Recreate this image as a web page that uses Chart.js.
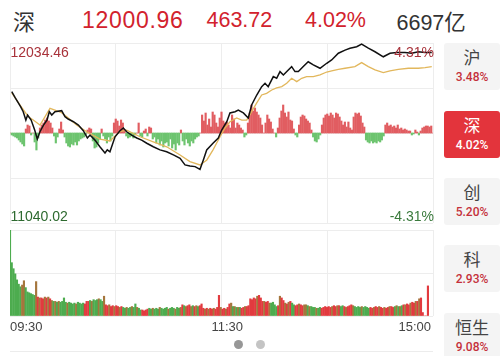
<!DOCTYPE html>
<html><head><meta charset="utf-8">
<script src="https://cdn.jsdelivr.net/npm/chart.js@4.4.0/dist/chart.umd.min.js"></script>
<style>
body{margin:0;background:#fff;width:500px;height:356px;overflow:hidden;position:relative;font-family:"Liberation Sans",Arial,"Noto Sans CJK SC",sans-serif;}
.t{position:absolute;white-space:nowrap;line-height:1;}
.cjk{font-family:"Noto Sans CJK SC",sans-serif;}
#c1{position:absolute;left:0;top:0;}
#c2{position:absolute;left:0;top:225px;}
.btn{position:absolute;left:444px;width:56px;height:47px;background:#f4f4f4;border-radius:3px;text-align:center;}
.btn .n{font-family:"Noto Sans CJK SC",sans-serif;font-size:17px;color:#444;margin-top:4px;line-height:20px;}
.btn .p{font-family:Roboto,"Liberation Sans",sans-serif;font-weight:500;font-size:12px;color:#c4303b;margin-top:2px;line-height:16px;}
.btn.on{background:#e3343c;}
.btn.on .n,.btn.on .p{color:#fff;}
.dot{position:absolute;width:9px;height:9px;border-radius:50%;}
</style></head>
<body>
<div class="t cjk" style="left:13px;top:9px;font-size:22px;line-height:22px;color:#333;">深</div>
<div class="t" style="left:82px;top:8.8px;font-size:23px;letter-spacing:0.7px;color:#d2222d;">12000.96</div>
<div class="t" style="left:206.5px;top:10px;font-size:21.5px;color:#d2222d;">463.72</div>
<div class="t" style="left:305px;top:10px;font-size:21.5px;color:#d2222d;">4.02%</div>
<div class="t" style="left:396.5px;top:10px;font-size:21.5px;color:#333;">6697<span class="cjk">亿</span></div>

<canvas id="c1" width="440" height="230"></canvas>
<canvas id="c2" width="440" height="100"></canvas>

<div class="t" style="left:10.5px;top:45px;font-size:14px;color:#a8323a;">12034.46</div>
<div class="t" style="right:66px;top:45px;font-size:14px;color:#a8323a;">4.31%</div>
<div class="t" style="left:10.5px;top:208.8px;font-size:14px;color:#2d6a2f;">11040.02</div>
<div class="t" style="right:66px;top:208.8px;font-size:14px;color:#3a7a3c;">-4.31%</div>

<div class="t" style="left:10px;top:319.7px;font-size:13px;color:#444;">09:30</div>
<div class="t" style="left:211.5px;top:319.7px;font-size:13px;color:#444;">11:30</div>
<div class="t" style="right:69px;top:319.7px;font-size:13px;color:#444;">15:00</div>

<div class="dot" style="left:234px;top:339.5px;background:#979797;"></div>
<div class="dot" style="left:256px;top:339.5px;background:#c4c4c4;"></div>
<div style="position:absolute;left:10px;top:351px;width:423px;height:1px;background:#ececec;"></div>

<div class="btn" style="top:43px;"><div class="n">沪</div><div class="p">3.48%</div></div>
<div class="btn on" style="top:111px;"><div class="n">深</div><div class="p">4.02%</div></div>
<div class="btn" style="top:178px;"><div class="n">创</div><div class="p">5.20%</div></div>
<div class="btn" style="top:245px;"><div class="n">科</div><div class="p">2.93%</div></div>
<div class="btn" style="top:313px;"><div class="n">恒生</div><div class="p">9.08%</div></div>

<script>
// minute index (0 = 09:30, 120 = 11:30/13:00, 240 = 15:00) and % change
const priceT = [1,3,6,7.5,9,10,12,14,15.5,17,19,21,22.3,23.7,25.5,29.3,31.2,33,36,38.8,41.6,43.9,45.4,48.2,51,53.9,55.2,56.7,59.6,62.4,64.3,66.2,69,71.9,74.7,77.6,81.3,85.1,88.9,92.7,96.5,99.3,102.1,105,107.8,109.7,111.6,115.3,118.2,120.1,123,124.8,127.7,129.5,132.4,135.2,137.1,140,142.8,144.7,146.5,149.4,151.3,153.2,155.1,157.9,159.8,161.7,163.6,166.4,169.2,172.1,175.9,179.7,182.5,186.3,190.1,192.9,196.7,199.5,203.3,207.1,211.8,215.6,219.4,224.1,227.9,231.7,235.5,239.3];
const priceV = [1.98,1.68,1.26,1.02,0.62,0.86,0.62,0.14,-0.29,0.06,0.38,0.62,1.02,0.86,1.02,1.07,0.78,0.67,0.54,0.38,0.11,-0.24,-0.10,-0.34,-0.66,-0.96,-0.81,-0.90,-0.18,0.11,0.24,0.06,-0.10,-0.24,-0.34,-0.49,-0.66,-0.81,-0.90,-1.05,-1.21,-1.53,-1.58,-1.61,-1.74,-1.29,-0.81,-0.48,-0.24,0.14,0.54,0.96,1.02,1.10,0.96,0.72,1.34,1.82,2.22,2.38,2.22,2.70,2.62,2.94,2.78,3.02,3.18,2.94,2.94,3.18,3.41,3.26,3.10,3.34,3.50,3.82,3.97,4.06,4.13,4.26,4.06,3.89,3.65,3.82,3.85,3.85,3.82,3.89,3.85,3.86];
const avgT = [1,5.7,10.4,13.2,17,19.9,22.7,25.5,29.3,32.2,37.8,43.5,51,56.7,59.6,62.4,66.2,73.8,81.3,88.9,96.5,102.1,107.8,111.7,115.2,119.1,122,124.8,128.6,131.5,134.3,137.1,140,142.8,145.6,148.5,151.3,154.2,157,159.8,162.7,165.5,168.3,172.1,175.9,179.7,182.5,186.3,190.1,195.7,199.5,203.3,207.1,211.8,215.6,220.3,226,231.7,235.5,239.3];
const avgV = [1.92,1.34,0.78,0.62,0.38,0.78,1.18,1.10,0.97,0.78,0.38,0.06,-0.29,-0.38,-0.14,0.07,0.14,-0.18,-0.42,-0.66,-1.05,-1.37,-1.53,-1.29,-0.81,-0.19,0.24,0.54,0.72,0.62,0.62,1.02,1.44,1.82,1.90,2.06,2.16,2.22,2.38,2.62,2.46,2.62,2.70,2.70,2.78,2.92,2.98,3.05,3.10,3.18,3.37,3.18,3.02,2.89,2.98,3.05,3.10,3.10,3.13,3.18];
// per-minute buy/sell strength bars (+ red, - green)
const flow = [
0,-2,-3,-4,-5,-7,-9,-11,-13,4,
8,7,-2,0,-9,-17,-5,5,8,10,
13,15,12,10,5,-3,-10,-4,4,11,
3,-4,-10,-13,-14,-11,-12,-9,-12,-8,
-6,-5,-4,-2,3,5,4,-8,-15,-14,
-10,-6,4,-3,-6,-10,-4,-8,-3,10,
14,12,7,13,10,3,-3,-5,-4,-3,
-5,-2,0,10,-3,-4,2,4,-3,6,
5,-6,-4,-10,-6,-12,-8,-14,-10,-9,
-13,-6,-15,-11,-17,-10,-12,3,-8,-12,
-6,-10,-13,-8,-10,-6,-4,-3,0,18,
12,20,8,14,6,21,18,10,6,15,
21,12,10,11,8,5,18,14,5,10,
8,5,3,-4,-2,10,20,28,22,25,
21,18,15,8,0,10,18,14,11,4,
0,-4,5,15,22,28,20,16,21,13,
12,4,-2,-4,8,16,18,17,14,12,
10,3,-4,-8,-9,-6,-2,8,15,18,
19,17,20,18,15,20,19,16,12,8,
11,6,11,5,3,16,20,19,20,17,
10,6,-7,-9,-10,-8,-10,-9,-10,-8,
-9,-7,-3,8,10,7,8,6,7,5,
8,4,5,3,4,3,2,2,-2,-1,
3,1,-2,2,5,6,7,7,6,7,
0];
// per-minute volume (relative, max = 100)
const volume = [
100,62,55,49,42,37,34,36,41,33,
28,27,26,25,24,40,22,21,21,20,
22,21,22,20,18,17,17,16,17,16,
17,21,16,15,16,15,14,15,14,16,
15,14,15,14,17,17,18,17,19,18,
19,20,19,17,23,13,12,13,11,12,
11,12,11,10,11,10,9,10,9,10,
11,10,14,10,9,7,7,6,7,8,
9,8,9,8,9,8,10,9,8,9,
10,8,9,10,9,8,10,9,10,13,
12,11,12,13,11,12,11,12,11,12,
14,9,8,9,8,9,8,9,8,10,
24,10,8,9,8,10,14,15,11,11,
10,10,10,9,10,11,11,12,20,19,
21,20,23,24,21,17,17,16,17,15,
15,16,13,11,12,23,21,18,15,14,
16,17,15,13,12,13,14,13,12,13,
13,12,11,11,10,10,9,9,10,9,
10,11,10,11,10,11,12,11,12,12,
11,12,11,10,11,12,13,12,11,10,
11,10,11,10,11,10,9,10,9,10,
11,10,11,10,9,10,9,10,11,11,
10,11,12,11,11,12,13,13,14,13,
15,16,15,17,17,20,21,4,0,0,
35];
// volume bar direction: g = down, r = up, o = flat
const volDir = ["ggggggg","oo","gggggg","o","rorroror","ogogo","ggggoggggogggg","rrr","gogggog","g","o",
"rrorrorror","ggoggoggogg","rrrr","ggogggoggggogggogg","orgorrogrogr","rrororrorr","rorrorro","gogog",
"rrorrrrrrorrr","orro","gggg","rorroror","gg","rrorro","ogo","gggogg","rrrrr","rorror","gg","rorrro",
"ggggogggg","rrorrorrorrorr","gogog","rorror","rororrrrr"];

const GRID = '#ededed';
const dirStr = volDir.join('');
const volColor = {g:'#4dac4f', r:'#e23a3f', o:'#a5763d'};

function fixedTicks(vals){ return s => { s.ticks = vals.map(v => ({value:v})); }; }
function axis(min,max,ticks){
  return {type:'linear',min:min,max:max,offset:false,
    grid:{color:GRID,lineWidth:1,drawTicks:false,offset:false},
    border:{display:false},ticks:{display:false},afterBuildTicks:fixedTicks(ticks)};
}
const base = {responsive:false,animation:false,events:[],
  plugins:{legend:{display:false},tooltip:{enabled:false}}};

new Chart(document.getElementById('c1'), {
  type:'bar',
  data:{datasets:[
    {type:'line',data:priceT.map((t,k)=>({x:t,y:priceV[k]})),borderColor:'#111',borderWidth:1.5,pointRadius:0,tension:0,order:1,yAxisID:'y'},
    {type:'line',data:avgT.map((t,k)=>({x:t,y:avgV[k]})),borderColor:'#e2b75c',borderWidth:1.3,pointRadius:0,tension:0,order:2,yAxisID:'y'},
    {type:'bar',data:flow.map((v,i)=>({x:i,y:v})),backgroundColor:flow.map(v=>v>=0?'#e15d61':'#6dc46f'),barThickness:1.5,order:3,yAxisID:'y2'}
  ]},
  options:Object.assign({},base,{
    layout:{padding:{left:10,right:7,top:43,bottom:7},autoPadding:false},
    scales:{
      x:axis(0,240,[0,60,120,180,240]),
      y:axis(-4.31,4.31,[-4.31,-2.155,0,2.155,4.31]),
      y2:{type:'linear',min:-90,max:90,display:false}
    }})
});

const vMax = 242.9;
new Chart(document.getElementById('c2'), {
  type:'bar',
  data:{datasets:[
    {data:volume.map((v,i)=>({x:i,y:v})),backgroundColor:volume.map((v,i)=>volColor[dirStr[i]]||volColor.g),barThickness:1.5}
  ]},
  options:Object.assign({},base,{
    layout:{padding:{left:10,right:7,top:5,bottom:9},autoPadding:false},
    scales:{
      x:axis(0,vMax,[0,vMax/4,vMax/2,vMax*3/4,vMax]),
      y:axis(0,100,[0,50,100])
    }})
});
</script>
</body></html>
